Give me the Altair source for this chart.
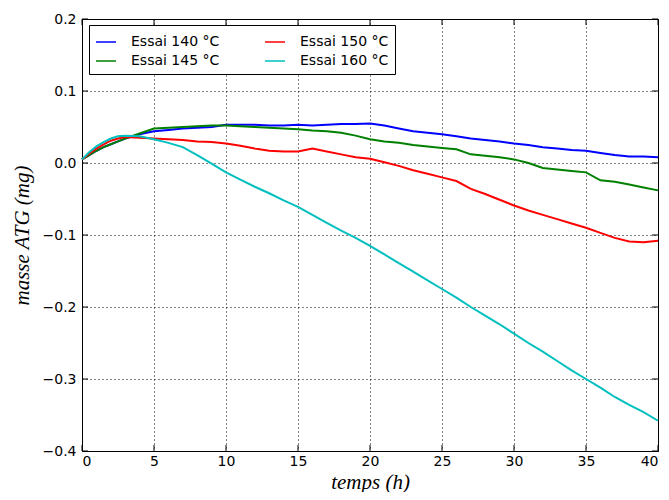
import altair as alt
import pandas as pd

t = [0, 0.5, 1, 1.5, 2, 2.5, 3,
     4, 5, 6, 7, 8, 9, 10, 11, 12, 13, 14, 15, 16, 17, 18, 19, 20, 21, 22, 23, 24,
     25, 26, 27, 28, 29, 30, 31, 32, 33, 34, 35, 36, 37, 38, 39, 40]

essai_140 = [0.005, 0.011, 0.017, 0.022, 0.026, 0.030, 0.034,
             0.040, 0.044, 0.046, 0.048, 0.049, 0.050,
             0.053, 0.053, 0.053, 0.052, 0.052,
             0.053, 0.052, 0.053, 0.054, 0.054,
             0.055, 0.052, 0.048, 0.044, 0.042,
             0.040, 0.037, 0.034, 0.032, 0.030,
             0.027, 0.025, 0.022, 0.020, 0.018,
             0.017, 0.014, 0.011, 0.009, 0.009,
             0.008]
essai_145 = [0.005, 0.011, 0.017, 0.022, 0.026, 0.030, 0.034,
             0.041, 0.048, 0.049, 0.050, 0.051, 0.052,
             0.052, 0.051, 0.050, 0.049, 0.048,
             0.047, 0.045, 0.044, 0.042, 0.038,
             0.033, 0.030, 0.028, 0.025, 0.023,
             0.021, 0.019, 0.012, 0.010, 0.008,
             0.005, 0.000, -0.007, -0.009, -0.011,
             -0.013, -0.024, -0.026, -0.030, -0.034,
             -0.038]
essai_150 = [0.005, 0.013, 0.020, 0.026, 0.031, 0.034, 0.036,
             0.035, 0.034, 0.033, 0.032, 0.030, 0.029,
             0.027, 0.024, 0.020, 0.017, 0.016,
             0.016, 0.020, 0.016, 0.012, 0.008,
             0.006, 0.001, -0.004, -0.010, -0.015,
             -0.020, -0.025, -0.036, -0.043, -0.051,
             -0.059, -0.066, -0.072, -0.078, -0.084,
             -0.090, -0.097, -0.104, -0.109, -0.110,
             -0.108]
essai_160 = [0.005, 0.015, 0.023, 0.029, 0.034, 0.037, 0.038,
             0.037, 0.033, 0.028, 0.022, 0.011, -0.001,
             -0.013, -0.023, -0.033, -0.042, -0.052,
             -0.061, -0.072, -0.083, -0.094, -0.104,
             -0.115, -0.127, -0.139, -0.151, -0.163,
             -0.175, -0.187, -0.200, -0.212, -0.224,
             -0.237, -0.250, -0.262, -0.275, -0.288,
             -0.300, -0.312, -0.325, -0.336, -0.346,
             -0.358]

names = ["Essai 140 °C", "Essai 145 °C", "Essai 150 °C", "Essai 160 °C"]
colors = ["#0000ff", "#008000", "#ff0000", "#00bfbf"]
series = [essai_140, essai_145, essai_150, essai_160]

x_ticks = [0, 5, 10, 15, 20, 25, 30, 35, 40]
y_ticks = [-0.4, -0.3, -0.2, -0.1, 0.0, 0.1, 0.2]

rows = []
for name, vals in zip(names, series):
    for ti, v in zip(t, vals):
        rows.append({"t": ti, "m": v, "s": name})
df = pd.DataFrame(rows)

W, H = 576, 432
xs = alt.Scale(domain=[0, 40], nice=False, zero=False)
ys = alt.Scale(domain=[-0.4, 0.2], nice=False, zero=False)
x_title = "temps (h)"
y_title = "masse ATG (mg)"
x_axis = alt.Axis(values=x_ticks, format="d", labelPadding=3,
                  titleY=41, titleBaseline="bottom")
y_axis = alt.Axis(values=y_ticks, format=".1f", labelPadding=6, titlePadding=10)

lines = alt.Chart(df).mark_line(strokeWidth=2).encode(
    x=alt.X("t:Q", scale=xs, title=x_title, axis=x_axis),
    y=alt.Y("m:Q", scale=ys, title=y_title, axis=y_axis),
    color=alt.Color("s:N", scale=alt.Scale(domain=names, range=colors),
                    legend=alt.Legend(title=None, orient="none", legendX=7, legendY=6,
                                      columns=2, symbolType="stroke", symbolSize=400,
                                      symbolStrokeWidth=1.5, labelFontSize=14,
                                      labelFont="DejaVu Sans", labelColor="black",
                                      labelOffset=14, strokeColor="black", fillColor="white",
                                      padding=6, columnPadding=42, rowPadding=1)),
)

xt = pd.DataFrame({"t": x_ticks})
yt = pd.DataFrame({"m": y_ticks})
tick_len = 6
xb = alt.Chart(xt).mark_rule(color="black").encode(
    x=alt.X("t:Q", scale=xs, title=x_title, axis=x_axis), y=alt.value(H), y2=alt.value(H - tick_len))
xtop = alt.Chart(xt).mark_rule(color="black").encode(
    x=alt.X("t:Q", scale=xs, title=x_title, axis=x_axis), y=alt.value(0), y2=alt.value(tick_len))
yl = alt.Chart(yt).mark_rule(color="black").encode(
    y=alt.Y("m:Q", scale=ys, title=y_title, axis=y_axis), x=alt.value(0), x2=alt.value(tick_len))
yr = alt.Chart(yt).mark_rule(color="black").encode(
    y=alt.Y("m:Q", scale=ys, title=y_title, axis=y_axis), x=alt.value(W), x2=alt.value(W - tick_len))

chart = alt.layer(lines, xb, xtop, yl, yr).properties(
    width=W, height=H,
    autosize=alt.AutoSizeParams(type="none"),
    padding={"left": 74, "top": 11, "right": 3, "bottom": 41},
).configure_axis(
    labelFont="DejaVu Sans", labelFontSize=14, labelColor="black",
    titleFont="Liberation Serif", titleFontStyle="italic", titleFontWeight="normal",
    titleFontSize=21, titleColor="black",
    grid=True, gridColor="black", gridDash=[1, 3], gridOpacity=1, gridWidth=1,
    domainColor="black", domainWidth=1, ticks=False, tickSize=0,
).configure_view(stroke="black", strokeWidth=1)

chart.save("out.html", embed_options={"renderer": "svg", "actions": False})
